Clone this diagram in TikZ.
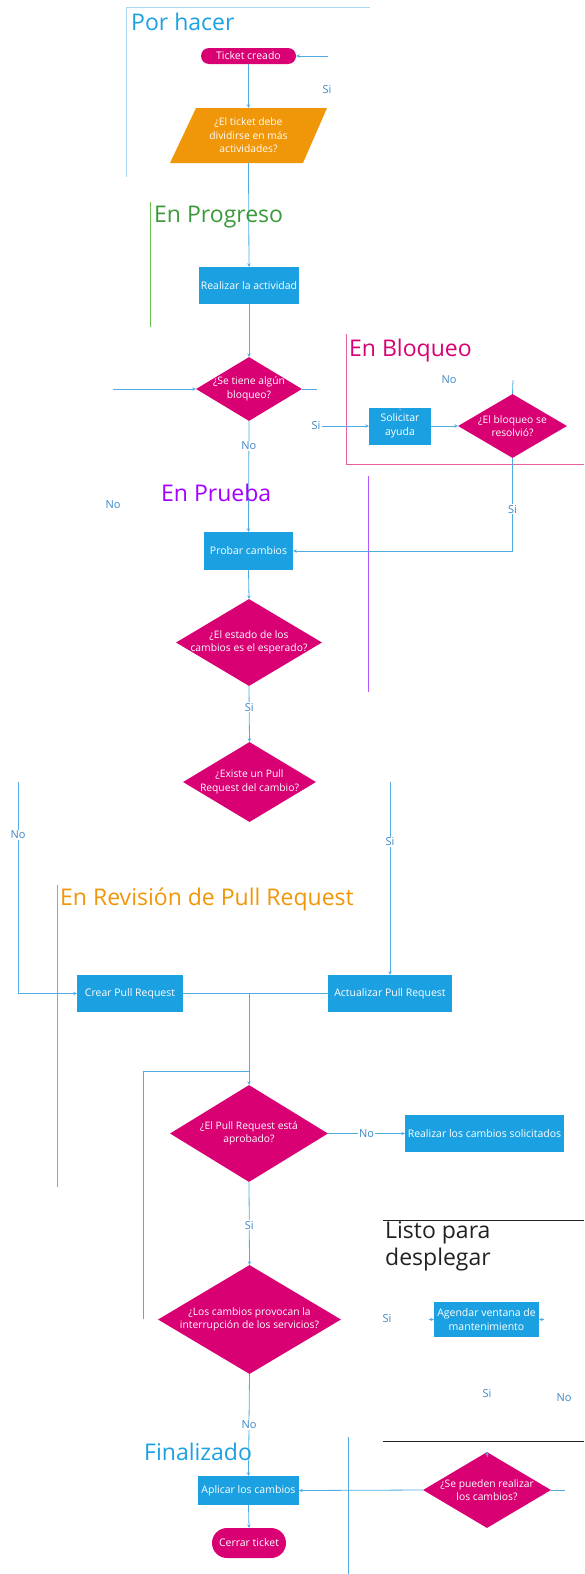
\documentclass[tikz,border=0pt]{standalone}
\usepackage{fontspec}
\setmainfont{Open Sans}
\usetikzlibrary{shapes.geometric,arrows.meta}
\definecolor{cblue}{HTML}{1BA1E2}
\definecolor{cmag}{HTML}{D80073}
\definecolor{corange}{HTML}{F09609}
\definecolor{cline}{HTML}{4FADE3}
\definecolor{clab}{HTML}{3C86C6}
\definecolor{cgreen}{HTML}{3A9A3A}
\definecolor{cgreenl}{HTML}{6CBF4F}
\definecolor{cpurple}{HTML}{A200FF}
\definecolor{cpurplel}{HTML}{B455FF}
\definecolor{cpink}{HTML}{E8609F}
\definecolor{cpaleblue}{HTML}{A8DAF2}
\definecolor{cdark}{HTML}{222222}
\begin{document}
\begin{tikzpicture}[x=1pt,y=-1pt,
  box/.style={rectangle,fill=cblue,text=white,inner sep=0pt,font=\fontsize{10.5}{13.5}\selectfont,align=center},
  pill/.style={rectangle,fill=cmag,text=white,inner sep=0pt,font=\fontsize{10.5}{13.5}\selectfont},
  dia/.style={diamond,fill=cmag,inner sep=0pt},
  dtext/.style={text=white,font=\fontsize{10.3}{13.5}\selectfont,align=center,inner sep=0pt},
  conn/.style={draw=cline,line width=0.8pt},
  arr/.style={conn,-{Stealth[length=3.5pt,width=3.5pt]}},
  lab/.style={text=clab,font=\fontsize{11}{13}\selectfont,fill=white,inner sep=1pt},
  labn/.style={text=clab,font=\fontsize{11}{13}\selectfont,inner sep=1pt},
  ttl/.style={anchor=west,font=\fontsize{23}{27}\selectfont,inner sep=0pt},
  lane/.style={line width=0.8pt},
]
\useasboundingbox (0,0) rectangle (584,1574);

% lane lines
\draw[lane,cpaleblue] (126,177) -- (126,7) -- (370,7);
\draw[lane,cgreenl] (150,202) -- (150,327);
\draw[lane,cpink] (346,334) -- (346,464) -- (584,464);
\draw[lane,cpurplel] (368,476) -- (368,692);
\draw[lane,corange] (57,885) -- (57,1187);
\draw[lane,cdark] (383,1220) -- (584,1220);
\draw[lane,cline] (348,1437) -- (348,1574);
\draw[lane,cdark] (383,1441) -- (584,1441);

% shapes
\node[pill,rounded corners=8pt,minimum width=95pt,minimum height=16pt] (tc) at (248.5,56) {Ticket creado};
\fill[corange] (196,108) -- (327,108) -- (303,163) -- (170,163) -- cycle;
\node[dtext,minimum width=110pt,minimum height=55pt] (para) at (248.5,135.5) {¿El ticket debe\\dividirse en más\\actividades?};
\node[box,minimum width=100pt,minimum height=37pt] (realizar) at (249,285.5) {Realizar la actividad};
\node[dia,minimum width=106pt,minimum height=64pt] (d1) at (249,389) {};
\node[dtext] (d1t) at (d1) {¿Se tiene algún\\bloqueo?};
\node[box,minimum width=62pt,minimum height=37pt] (sol) at (400,426) {Solicitar\\ayuda};
\node[dia,minimum width=109pt,minimum height=64pt] (d2) at (512.5,426) {};
\node[dtext] (d2t) at (d2) {¿El bloqueo se\\resolvió?};
\node[box,minimum width=89pt,minimum height=38pt] (probar) at (248.5,551) {Probar cambios};
\node[dia,minimum width=146pt,minimum height=87pt] (d3) at (249,642.5) {};
\node[dtext] (d3t) at (d3) {¿El estado de los\\cambios es el esperado?};
\node[dia,minimum width=133pt,minimum height=80pt] (d4) at (249.5,782) {};
\node[dtext] (d4t) at (d4) {¿Existe un Pull\\Request del cambio?};
\node[box,minimum width=106pt,minimum height=37pt] (crear) at (130,993.5) {Crear Pull Request};
\node[box,minimum width=124pt,minimum height=37pt] (act) at (390,993.5) {Actualizar Pull Request};
\node[dia,minimum width=158pt,minimum height=97pt] (d5) at (249,1133.5) {};
\node[dtext] (d5t) at (d5) {¿El Pull Request está\\aprobado?};
\node[box,minimum width=159pt,minimum height=37pt] (rcs) at (484.5,1133.5) {Realizar los cambios solicitados};
\node[dia,minimum width=183pt,minimum height=109pt] (d6) at (249.5,1319.5) {};
\node[dtext] (d6t) at (d6) {¿Los cambios provocan la\\interrupción de los servicios?};
\node[box,minimum width=105pt,minimum height=35pt] (ag) at (486.5,1319.5) {Agendar ventana de\\mantenimiento};
\node[dia,minimum width=128pt,minimum height=76pt] (d7) at (487,1490) {};
\node[dtext] (d7t) at (d7) {¿Se pueden realizar\\los cambios?};
\node[box,minimum width=101pt,minimum height=29pt] (apl) at (248.5,1490.5) {Aplicar los cambios};
\node[pill,rounded corners=15pt,minimum width=74pt,minimum height=30pt] (cerrar) at (249,1543) {Cerrar ticket};

% free ends
\coordinate (tcin) at (328,56);
\coordinate (d1in) at (113,389);
\coordinate (d1out) at (317,389);
\coordinate (d2top) at (513,380);
\coordinate (d2bend) at (512.5,551);
\coordinate (noL) at (18,782);
\coordinate (noLb) at (18,993.5);
\coordinate (siR) at (390,782);
\coordinate (j1) at (249,993.5);
\coordinate (lp1) at (143,1319);
\coordinate (lp2) at (143,1071);
\coordinate (lp3) at (249,1071);
\coordinate (d7out) at (565,1490);

% connectors
\draw[arr] (tcin) -- (tc.east);
\draw[arr] (tc.south) -- (para.north);
\draw[arr] (para.south) -- (realizar.north);
\draw[arr] (realizar.south) -- (d1.north);
\draw[arr] (d1in) -- (d1.west);
\draw[conn] (d1.east) -- (d1out);
\draw[arr] (d1.south) -- node[lab,pos=0.22] (l1) {No} (probar.north);
\node[labn] (sisol) at (316,426) {Si};
\draw[arr] (sisol.east) -- (sol.west);
\draw[arr] ([yshift=-4pt]sol.north) -- (sol.north);
\draw[arr] (sol.east) -- (d2.west);
\draw[conn] (d2top) -- (d2.north);
\draw[arr] (d2.south) -- node[lab,pos=0.55] (l2) {Si} (d2bend) -- (probar.east);
\draw[arr] (probar.south) -- (d3.north);
\draw[arr] (d3.south) -- node[lab,pos=0.38] (l3) {Si} (d4.north);
\draw[arr] (noL) -- node[lab,pos=0.25] (l4) {No} (noLb) -- (crear.west);
\draw[arr] (siR) -- node[lab,pos=0.31] (l5) {Si} (act.north);
\draw[conn] (crear.east) -- (act.west);
\draw[arr] (j1) -- (d5.north);
\draw[conn] (lp1) -- (lp2) -- (lp3);
\draw[arr] (d5.east) -- node[lab,pos=0.5] (l6) {No} (rcs.west);
\draw[arr] (d5.south) -- node[lab,pos=0.52] (l7) {Si} (d6.north);
\draw[arr] (d6.south) -- node[lab,pos=0.5] (l8) {No} (apl.north);
\draw[arr] ([xshift=-5pt]ag.west) -- (ag.west);
\draw[arr] ([xshift=5pt]ag.east) -- (ag.east);
\draw[arr] ([yshift=-5pt]d7.north) -- (d7.north);
\draw[arr] (d7.west) -- (apl.east);
\draw[conn] (d7.east) -- (d7out);
\draw[arr] (apl.south) -- (cerrar.north);

% loose labels
\node[labn] (s1) at (327,90) {Si};
\node[labn] (n1) at (449,380) {No};
\node[labn] (n2) at (113,505) {No};
\node[labn] (s2) at (387,1319) {Si};
\node[labn] (s3) at (487,1393) {Si};
\node[labn] (n3) at (564,1398) {No};

% titles
\node[ttl,text=cblue] (t1) at (131,22) {Por hacer};
\node[ttl,text=cgreen] (t2) at (154,217) {En Progreso};
\node[ttl,text=cmag] (t3) at (349,351) {En Bloqueo};
\node[ttl,text=cpurple] (t4) at (161,493) {En Prueba};
\node[ttl,text=corange] (t5) at (60,899) {En Revisión de Pull Request};
\node[ttl,text=cdark,align=left,font=\fontsize{23}{27}\selectfont] (t6) at (385,1246) {Listo para\\desplegar};
\node[ttl,text=cblue] (t7) at (144,1452) {Finalizado};
\end{tikzpicture}
\end{document}
